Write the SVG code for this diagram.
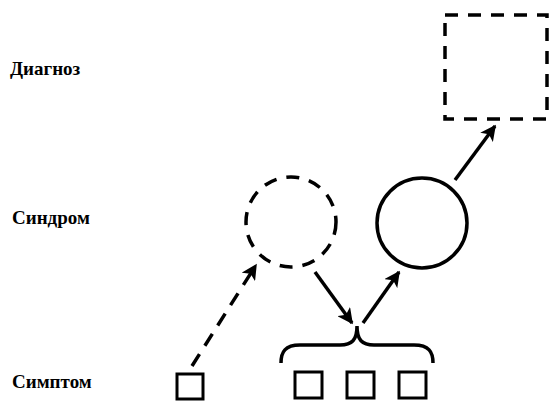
<svg xmlns="http://www.w3.org/2000/svg" width="549" height="401" viewBox="0 0 549 401">
  <style>
    .lbl { font-family: "Liberation Serif", "Times New Roman", serif; font-weight: bold; font-size: 19px; fill: #000; }
    .solid { fill: none; stroke: #000; stroke-width: 3.5; }
    .dash { fill: none; stroke: #000; stroke-width: 3.5; stroke-dasharray: 13 10; }
    .box { fill: #fff; stroke: #000; stroke-width: 3; }
    .edge { fill: none; stroke: #000; stroke-width: 3.5; }
  </style>
  <defs>
    <marker id="arrow" viewBox="0 0 10 10" refX="9" refY="5" markerWidth="4.5" markerHeight="4.5" orient="auto" markerUnits="strokeWidth">
      <path d="M0,0 L10,5 L0,10 L2.5,5 z" fill="#000"/>
    </marker>
  </defs>
  <rect width="549" height="401" fill="#fff"/>

  <!-- level labels -->
  <g id="labels">
    <text class="lbl" x="10" y="75">Диагноз</text>
    <text class="lbl" x="12" y="224">Синдром</text>
    <text class="lbl" x="12" y="388">Симптом</text>
  </g>

  <!-- diagnosis (hypothetical) -->
  <g id="diagnosis">
    <rect class="dash" x="445" y="15" width="102" height="104" stroke-dasharray="12 9"/>
  </g>

  <!-- syndromes -->
  <g id="syndrome-hypothetical">
    <circle class="dash" cx="291" cy="222" r="45" stroke-dasharray="16 11"/>
  </g>
  <g id="syndrome-confirmed">
    <circle class="solid" cx="422" cy="223" r="45"/>
  </g>

  <!-- symptoms -->
  <g id="symptom-single">
    <rect class="box" x="177" y="374" width="26" height="25" stroke-width="2.5"/>
  </g>
  <g id="symptom-group">
    <rect class="box" x="295" y="372" width="27" height="26"/>
    <rect class="box" x="347" y="372" width="27" height="26"/>
    <rect class="box" x="399" y="372" width="27" height="26"/>
    <path class="solid" stroke-width="3" d="M281,363 C281,352 285,345 300,345 L340,345 C352,345 357,340 357,326 C357,340 362,345 374,345 L414,345 C429,345 433,352 433,363"/>
  </g>

  <!-- connectors -->
  <g id="connectors">
    <line class="edge" x1="192" y1="366" x2="256" y2="265" stroke-dasharray="14 10" marker-end="url(#arrow)"/>
    <line class="edge" x1="315" y1="272" x2="352" y2="323" marker-end="url(#arrow)"/>
    <line class="edge" x1="363" y1="323" x2="399" y2="272" marker-end="url(#arrow)"/>
    <line class="edge" x1="455" y1="180" x2="495" y2="126" marker-end="url(#arrow)"/>
  </g>
</svg>
